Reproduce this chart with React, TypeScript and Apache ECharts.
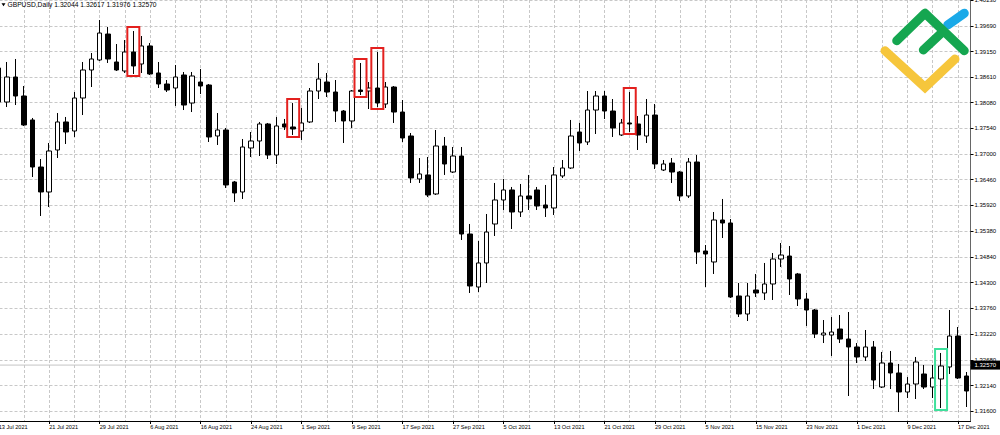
import React, { useEffect, useRef } from "react";
import * as echarts from "echarts";

const headerSymbol = "GBPUSD,Daily";
const headerValues = ["1.32044", "1.32617", "1.31976", "1.32570"];
const lastPrice = 1.3257;

const tickLabels = [
  "13 Jul 2021", "21 Jul 2021", "29 Jul 2021", "6 Aug 2021", "16 Aug 2021",
  "24 Aug 2021", "1 Sep 2021", "9 Sep 2021", "17 Sep 2021", "27 Sep 2021",
  "5 Oct 2021", "13 Oct 2021", "21 Oct 2021", "29 Oct 2021", "5 Nov 2021",
  "15 Nov 2021", "23 Nov 2021", "1 Dec 2021", "9 Dec 2021", "17 Dec 2021",
];

const priceTicks = [
  1.4023, 1.3969, 1.3915, 1.3861, 1.3808, 1.3754, 1.37, 1.3646, 1.3592,
  1.3538, 1.3484, 1.343, 1.3376, 1.3322, 1.3268, 1.3214, 1.316,
];

const opens = [
  1.38805, 1.38091, 1.38616, 1.38217, 1.37714, 1.36727, 1.36203, 1.37084, 1.37672, 1.37483,
  1.38175, 1.38763, 1.38973, 1.39518, 1.38931, 1.38742, 1.39141, 1.38889, 1.39267, 1.387,
  1.38469, 1.38385, 1.38658, 1.3807, 1.38511, 1.38448, 1.37378, 1.37504, 1.36413, 1.36203,
  1.37126, 1.37273, 1.3763, 1.36979, 1.3763, 1.37567, 1.37483, 1.37672, 1.38322, 1.38511,
  1.38301, 1.37902, 1.37693, 1.38343, 1.38322, 1.38385, 1.38049, 1.38406, 1.37881, 1.37378,
  1.36476, 1.3656, 1.36161, 1.37168, 1.36622, 1.36958, 1.35321, 1.34209, 1.34713, 1.35531,
  1.36035, 1.36245, 1.35783, 1.36119, 1.36245, 1.3593, 1.35867, 1.36539, 1.36706, 1.37462,
  1.37252, 1.37923, 1.38217, 1.37902, 1.37399, 1.37651, 1.3763, 1.37378, 1.37818, 1.36664,
  1.36811, 1.36622, 1.36119, 1.36832, 1.34964, 1.34734, 1.35615, 1.35552, 1.3402, 1.33642,
  1.34146, 1.34083, 1.34272, 1.34796, 1.34859, 1.34482, 1.33957, 1.33726, 1.33201, 1.33201,
  1.33327, 1.33117, 1.3295, 1.3274, 1.3295, 1.3211, 1.32614, 1.32404, 1.32005, 1.32173,
  1.32383, 1.3211, 1.32278, 1.3253, 1.3318, 1.32341,
];

const closes = [
  1.38091, 1.38616, 1.38217, 1.37609, 1.36727, 1.36203, 1.37063, 1.37672, 1.37462, 1.38175,
  1.38763, 1.38994, 1.39539, 1.38994, 1.38763, 1.39141, 1.38847, 1.39267, 1.38679, 1.38469,
  1.38343, 1.38616, 1.38028, 1.38637, 1.38427, 1.37357, 1.37504, 1.3635, 1.36182, 1.37147,
  1.37273, 1.3763, 1.36979, 1.37588, 1.37567, 1.37525, 1.37651, 1.38322, 1.38574, 1.38301,
  1.37902, 1.37693, 1.38322, 1.38312, 1.38385, 1.3807, 1.38406, 1.37881, 1.37336, 1.36497,
  1.36581, 1.3614, 1.37168, 1.3679, 1.36958, 1.35321, 1.3423, 1.34713, 1.35363, 1.36035,
  1.36245, 1.35783, 1.36119, 1.36056, 1.35909, 1.35867, 1.3656, 1.36706, 1.37378, 1.37231,
  1.37923, 1.38217, 1.37902, 1.37546, 1.37651, 1.3763, 1.37399, 1.37818, 1.3679, 1.3679,
  1.36622, 1.36119, 1.36832, 1.34943, 1.34901, 1.35615, 1.35552, 1.33999, 1.33642, 1.3402,
  1.34083, 1.34272, 1.34796, 1.3488, 1.34377, 1.33957, 1.33726, 1.33222, 1.33243, 1.33264,
  1.33117, 1.3295, 1.3274, 1.3295, 1.32257, 1.32614, 1.32404, 1.32005, 1.32173, 1.32635,
  1.3211, 1.32299, 1.32551, 1.3318, 1.32299, 1.32026,
];

const highs = [
  1.38931, 1.38931, 1.38994, 1.38427, 1.37756, 1.36895, 1.37231, 1.3786, 1.37777, 1.38301,
  1.38931, 1.3912, 1.39812, 1.39665, 1.39308, 1.39392, 1.39581, 1.39476, 1.3933, 1.38931,
  1.38553, 1.38868, 1.38721, 1.38721, 1.38784, 1.38469, 1.3786, 1.37546, 1.36434, 1.37315,
  1.37462, 1.37672, 1.37651, 1.37777, 1.37735, 1.3807, 1.37965, 1.38385, 1.3891, 1.387,
  1.38553, 1.37923, 1.38343, 1.3891, 1.38511, 1.39141, 1.38511, 1.38427, 1.38133, 1.37441,
  1.36916, 1.36937, 1.37504, 1.37357, 1.37147, 1.37147, 1.35531, 1.35174, 1.35741, 1.36392,
  1.36476, 1.36308, 1.36371, 1.3656, 1.36308, 1.3635, 1.36727, 1.36874, 1.37714, 1.37651,
  1.38322, 1.38322, 1.38322, 1.38154, 1.37735, 1.38301, 1.37798, 1.38154, 1.38049, 1.36874,
  1.36916, 1.36643, 1.36916, 1.36979, 1.3509, 1.35783, 1.36056, 1.35636, 1.34293, 1.34293,
  1.34482, 1.34713, 1.34922, 1.35132, 1.35069, 1.34503, 1.34083, 1.33747, 1.33516, 1.33579,
  1.33621, 1.33684, 1.33033, 1.33306, 1.33075, 1.32845, 1.32866, 1.32593, 1.3232, 1.3274,
  1.32572, 1.32572, 1.32824, 1.33726, 1.33369, 1.32425,
];

const lows = [
  1.38028, 1.37986, 1.38028, 1.37588, 1.36517, 1.35699, 1.35888, 1.36916, 1.3721, 1.37357,
  1.37818, 1.38406, 1.38952, 1.3891, 1.38742, 1.387, 1.38679, 1.387, 1.38658, 1.38385,
  1.38301, 1.38007, 1.37923, 1.37881, 1.38259, 1.37252, 1.37189, 1.36287, 1.35993, 1.36056,
  1.36937, 1.36958, 1.36895, 1.3679, 1.37504, 1.37399, 1.37294, 1.37651, 1.38154, 1.38196,
  1.37672, 1.37231, 1.37546, 1.38238, 1.37944, 1.37986, 1.37965, 1.37651, 1.37252, 1.36392,
  1.36392, 1.36098, 1.3614, 1.3656, 1.36601, 1.35195, 1.34083, 1.34104, 1.34293, 1.35279,
  1.35825, 1.35426, 1.35678, 1.35825, 1.35825, 1.35678, 1.3572, 1.36497, 1.36685, 1.37063,
  1.37189, 1.3742, 1.37735, 1.37357, 1.37378, 1.37462, 1.37084, 1.37231, 1.36685, 1.36643,
  1.36392, 1.36014, 1.36077, 1.34692, 1.34209, 1.34482, 1.35237, 1.33978, 1.33579, 1.33495,
  1.33999, 1.33936, 1.33936, 1.34629, 1.34041, 1.3381, 1.3339, 1.33138, 1.33033, 1.3276,
  1.33033, 1.31921, 1.32614, 1.32656, 1.32068, 1.32089, 1.32068, 1.31585, 1.31879, 1.31858,
  1.32068, 1.31879, 1.31669, 1.32383, 1.32278, 1.3169,
];

const redBoxBars = [16, 35, 43, 45, 75];
const greenBoxBars = [112];

const FONT = '"Liberation Sans", Arial, sans-serif';

export default function App() {
  const ref = useRef<HTMLDivElement>(null);

  useEffect(() => {
    if (!ref.current) return;
    const chart = echarts.init(ref.current, null, { renderer: "svg" });
    const cats = opens.map((_, i) => String(i));
    const data = opens.map((o, i) => [o, closes[i], lows[i], highs[i]]);

    chart.setOption({
      animation: false,
      backgroundColor: "#ffffff",
      grid: {
        left: -5.5,
        right: 29.5,
        top: 0,
        bottom: 14,
        containLabel: false,
        outerBoundsMode: "none",
      },
      xAxis: {
        type: "category",
        data: cats,
        boundaryGap: true,
        axisLine: { show: true, lineStyle: { color: "#000", width: 1 } },
        axisTick: {
          show: true,
          alignWithLabel: true,
          interval: (i: number) => i % 6 === 0,
          length: 3,
          lineStyle: { color: "#000" },
        },
        axisLabel: {
          show: true,
          interval: (i: number) => i % 6 === 0,
          formatter: (_v: string, i: number) => tickLabels[Math.round(i / 6)] ?? "",
          align: "left",
          margin: 3,
          fontSize: 5.6,
          color: "#000",
          fontFamily: FONT,
        },
        splitLine: {
          show: true,
          alignWithLabel: true,
          interval: (i: number) => i % 3 === 0,
          lineStyle: { color: "#c8c8c8", type: [3, 2], width: 1 },
        },
      },
      yAxis: {
        type: "value",
        position: "right",
        min: 1.313965,
        max: 1.40232,
        axisLine: { show: true, lineStyle: { color: "#666", width: 1 } },
        axisTick: {
          show: true,
          customValues: priceTicks,
          length: 3,
          inside: false,
          lineStyle: { color: "#000" },
        },
        axisLabel: {
          show: true,
          customValues: priceTicks,
          formatter: (v: number) => v.toFixed(5),
          margin: 4,
          fontSize: 6,
          color: "#000",
          fontFamily: FONT,
          align: "left",
        },
        splitLine: {
          show: true,
          lineStyle: { color: "#c8c8c8", type: [3, 2], width: 1 },
        },
      },
      series: [
        {
          type: "candlestick",
          data,
          barWidth: 5,
          clip: false,
          z: 5,
          itemStyle: {
            color: "#ffffff",
            color0: "#000000",
            borderColor: "#000000",
            borderColor0: "#000000",
            borderWidth: 1,
          },
        },
      ],
    });

    const box = (i: number, color: string) => {
      const top = chart.convertToPixel({ gridIndex: 0 }, [i, highs[i]]) as number[];
      const bot = chart.convertToPixel({ gridIndex: 0 }, [i, lows[i]]) as number[];
      return {
        type: "rect",
        z: 50,
        shape: { x: top[0] - 6, y: top[1] - 4, width: 12, height: bot[1] - top[1] + 6 },
        style: { fill: "none", stroke: color, lineWidth: 2 },
      };
    };

    const line = (pts: number[][], color: string, join: string) => ({
      type: "polyline",
      z: 60,
      shape: { points: pts },
      style: { fill: null, stroke: color, lineWidth: 9, lineCap: "round", lineJoin: join },
    });

    const rect = chart.getModel().getComponent("grid", 0).coordinateSystem.getRect();
    const py = (chart.convertToPixel({ gridIndex: 0 }, [0, lastPrice]) as number[])[1];
    const axisX = rect.x + rect.width;

    chart.setOption({
      graphic: [
        {
          type: "line",
          z: 1,
          shape: { x1: 0, y1: py, x2: axisX, y2: py },
          style: { stroke: "#c4c4c4", lineWidth: 1 },
        },
        {
          type: "rect",
          z: 60,
          shape: { x: axisX, y: py - 4.5, width: 1000 - axisX, height: 9 },
          style: { fill: "#000" },
        },
        {
          type: "text",
          z: 61,
          x: axisX + 4,
          y: py,
          style: {
            text: lastPrice.toFixed(5),
            fontSize: 6,
            fontFamily: FONT,
            fill: "#fff",
            verticalAlign: "middle",
            align: "left",
          },
        },
        ...redBoxBars.map((i) => box(i, "#e3201e")),
        ...greenBoxBars.map((i) => box(i, "#3ee09c")),
        line([[947.7, 25], [964.3, 13.3]], "#1aa9e8", "round"),
        line([[885, 50.7], [925, 87.3], [955, 59]], "#f6c63c", "miter"),
        line([[896.7, 40.7], [925, 13.3], [964.3, 50.7]], "#15a650", "round"),
        line([[923.3, 50], [941.7, 32.7]], "#15a650", "round"),
        {
          type: "polygon",
          z: 60,
          shape: { points: [[1.5, 3.2], [5.5, 3.2], [3.5, 6.2]] },
          style: { fill: "#000" },
        },
        {
          type: "text",
          z: 60,
          x: 7.5,
          y: 4.8,
          style: {
            text: headerSymbol + " " + headerValues.join(" "),
            fontSize: 6.7,
            fontFamily: FONT,
            fill: "#000",
            verticalAlign: "middle",
            align: "left",
          },
        },
      ],
    });

    return () => chart.dispose();
  }, []);

  return (
    <div
      ref={ref}
      style={{ position: "absolute", left: 0, top: 0, width: 1000, height: 435 }}
    />
  );
}
